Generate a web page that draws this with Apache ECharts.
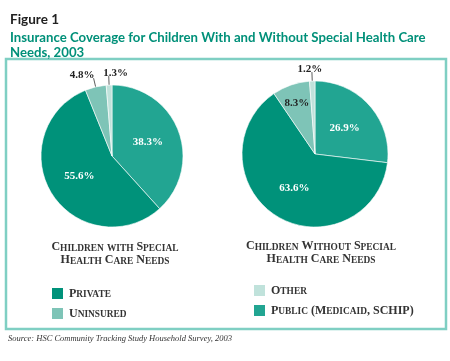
<!DOCTYPE html>
<html><head><meta charset="utf-8">
<script src="https://cdn.jsdelivr.net/npm/echarts@6/dist/echarts.min.js"></script>
<style>html,body{margin:0;padding:0;background:#fff}#c{width:450px;height:361px}</style>
</head><body><div id="c"></div>
<script>
const categories = ['Public (Medicaid, SCHIP)', 'Private', 'Uninsured', 'Other'];
const withSHCN = [38.3, 55.6, 4.8, 1.3];
const withoutSHCN = [26.9, 63.6, 8.3, 1.2];
const pieTitles = ['Children with Special\nHealth Care Needs', 'Children Without Special\nHealth Care Needs'];
const legendLeft = ['Private', 'Uninsured'];
const legendRight = ['Other', 'Public (Medicaid, SCHIP)'];
const colors = {'Public (Medicaid, SCHIP)': '#22a592', 'Private': '#00927a', 'Uninsured': '#7ec4b7', 'Other': '#c0e2db'};

function smallCaps(str, big, small) {
  return str.split('\n').map(line => {
    let out = '', cur = null, buf = '';
    for (const ch of line) {
      const isLower = ch !== ch.toUpperCase();
      const t = isLower ? small : big;
      if (t !== cur && buf) { out += '{' + cur + '|' + buf + '}'; buf = ''; }
      cur = t; buf += ch.toUpperCase();
    }
    if (buf) out += '{' + cur + '|' + buf + '}';
    return out;
  }).join('\n');
}

function buildData(vals) {
  return categories.map((name, i) => {
    const v = vals[i];
    const d = {name: name, value: v, itemStyle: {color: colors[name]}};
    if (v < 6) {
      d.label = {position: 'outside', color: '#222', fontWeight: 'bold'};
      d.labelLine = {show: true};
    } else if (v < 10) {
      d.label = {position: 'inside', color: '#222', fontWeight: 'bold'};
    }
    return d;
  });
}

const chart = echarts.init(document.getElementById('c'), null, {renderer: 'canvas'});
const serif = 'Liberation Serif';
const rich = {
  B: {fontFamily: serif, fontSize: 12, fontWeight: 'bold', color: '#333', verticalAlign: 'bottom'},
  S: {fontFamily: serif, fontSize: 9.4, fontWeight: 'bold', color: '#333', verticalAlign: 'bottom'}
};
function pieSeries(vals, cx, cy, r, tinyShift) {
  return {
    type: 'pie', center: [cx, cy], radius: r, startAngle: 90, clockwise: true,
    avoidLabelOverlap: false,
    itemStyle: {borderColor: '#fff', borderWidth: 0.6},
    label: {show: true, position: 'inside', formatter: p => p.value.toFixed(1) + '%',
      fontFamily: serif, fontSize: 11, fontWeight: 'bold', color: '#fff'},
    labelLine: {show: false, length: 9, length2: 0, lineStyle: {color: '#333', width: 0.8}},
    labelLayout: p => {
      const v = vals[p.dataIndex];
      if (v < 2) return {dx: p.labelRect.width / 2 + tinyShift, dy: -3};
      if (v < 6) return {dx: 6, dy: -3};
      if (v < 10) return {dy: -14, dx: -5};
      return {};
    },
    emphasis: {disabled: true},
    data: buildData(vals)
  };
}
chart.setOption({
  animation: false,
  title: [
    {text: 'Figure 1', left: 5, top: 8, textStyle: {fontFamily: 'Lato', fontWeight: 'bold', fontSize: 13.5, color: '#222'}},
    {text: 'Insurance Coverage for Children With and Without Special Health Care\nNeeds, 2003', left: 5, top: 25,
      textStyle: {fontFamily: 'Lato', fontWeight: 'bold', fontSize: 13.2, lineHeight: 15, color: '#009079'}},
    {text: smallCaps(pieTitles[0], 'B', 'S'), left: 110, top: 235, textAlign: 'center',
      textStyle: {rich: rich, lineHeight: 13}},
    {text: smallCaps(pieTitles[1], 'B', 'S'), left: 316, top: 234, textAlign: 'center',
      textStyle: {rich: rich, lineHeight: 13}},
    {text: 'Source: HSC Community Tracking Study Household Survey, 2003', left: 3, top: 329,
      textStyle: {fontFamily: serif, fontStyle: 'italic', fontWeight: 'normal', fontSize: 8.5, color: '#333'}}
  ],
  legend: [
    {data: legendLeft, orient: 'vertical', left: 50, top: 286, icon: 'rect', itemWidth: 13, itemHeight: 13, itemGap: 5, padding: 0,
      formatter: n => smallCaps(n, 'B', 'S'), textStyle: {rich: rich}},
    {data: legendRight, orient: 'vertical', left: 252, top: 283, icon: 'rect', itemWidth: 13, itemHeight: 13, itemGap: 5, padding: 0,
      formatter: n => smallCaps(n, 'B', 'S'), textStyle: {rich: rich}}
  ],
  graphic: [{type: 'rect', shape: {x: 6, y: 59, width: 440, height: 270}, style: {fill: 'none', stroke: '#7fcfc3', lineWidth: 2.5}, z: -1}],
  series: [pieSeries(withSHCN, 112, 156, 71, 12), pieSeries(withoutSHCN, 315, 154, 73, 3)]
});
</script></body></html>
